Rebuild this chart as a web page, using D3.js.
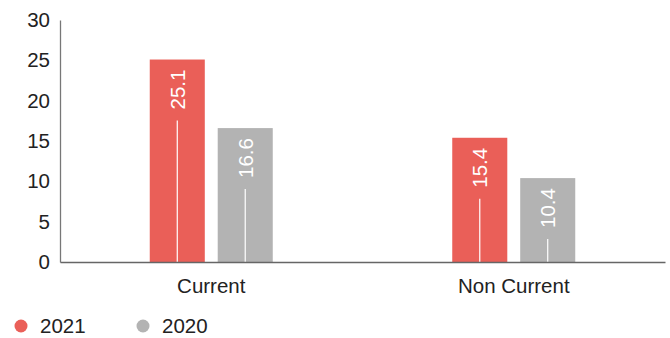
<!DOCTYPE html>
<html>
<head>
<meta charset="utf-8">
<style>
  body { margin: 0; background: #fff; }
  text { font-family: "Liberation Sans", Helvetica, Arial, sans-serif; }
</style>
<script src="https://d3js.org/d3.v7.min.js"></script>
</head>
<body>
<svg width="670" height="338"></svg>
<script>
var categories = ["Current", "Non Current"];
var series = ["2021", "2020"];
var values2021 = [25.1, 15.4];
var values2020 = [16.6, 10.4];
var yTicks = [0, 5, 10, 15, 20, 25, 30];
var colors = ["#ea5f58", "#b3b3b3"];
var fs = 20.5;

var svg = d3.select("svg"),
    margin = {top: 20, right: 5, bottom: 76, left: 60},
    width = +svg.attr("width") - margin.left - margin.right,
    height = +svg.attr("height") - margin.top - margin.bottom;

var data = categories.map(function(c, i) {
  return {cat: c, vals: [values2021[i], values2020[i]]};
});

var x0 = d3.scaleBand().domain(categories).range([0, width]);
var groupW = 123;
var x1 = d3.scaleBand().domain(series)
    .range([x0.bandwidth() / 2 - groupW / 2, x0.bandwidth() / 2 + groupW / 2])
    .paddingInner(0.19);
var y = d3.scaleLinear().domain([0, 30]).range([height, 0]);

var g = svg.append("g")
    .attr("transform", "translate(" + margin.left + "," + margin.top + ")");

// y axis
var yAxis = g.append("g")
    .call(d3.axisLeft(y).tickValues(yTicks).tickSize(0).tickPadding(10));
yAxis.select(".domain").attr("stroke", "#777").attr("stroke-width", 1.3);
yAxis.selectAll("text").attr("font-size", fs).attr("fill", "#222")
    .attr("font-family", "Liberation Sans, Helvetica, Arial, sans-serif");

// bars
var groups = g.selectAll(".grp")
  .data(data)
  .enter().append("g")
    .attr("class", "grp")
    .attr("transform", function(d) { return "translate(" + x0(d.cat) + ",0)"; });

var bars = groups.selectAll(".bar")
  .data(function(d) { return d.vals.map(function(v, i) { return {s: series[i], v: v, i: i}; }); })
  .enter().append("g").attr("class", "bar");

bars.append("rect")
    .attr("x", function(d) { return x1(d.s); })
    .attr("y", function(d) { return y(d.v); })
    .attr("width", x1.bandwidth())
    .attr("height", function(d) { return height - y(d.v); })
    .attr("fill", function(d) { return colors[d.i]; });

bars.each(function(d) {
  var b = d3.select(this);
  var cx = x1(d.s) + x1.bandwidth() / 2;
  var top = y(d.v) + 10;
  var t = b.append("text")
      .attr("transform", "translate(" + cx + "," + top + ") rotate(-90)")
      .attr("text-anchor", "end")
      .attr("dy", "0.36em")
      .attr("font-size", fs)
      .attr("fill", "#fff")
      .text(d3.format(".1f")(d.v));
  var len = t.node().getComputedTextLength();
  b.append("line")
      .attr("x1", cx).attr("x2", cx)
      .attr("y1", top + len + 11).attr("y2", height)
      .attr("stroke", "#fff").attr("stroke-width", 1.2);
});

// x axis
var xAxis = g.append("g")
    .attr("transform", "translate(0," + height + ")")
    .call(d3.axisBottom(x0).tickSize(0).tickPadding(16));
xAxis.select(".domain").attr("stroke", "#666").attr("stroke-width", 1.5);
xAxis.selectAll("text").attr("font-size", fs).attr("fill", "#222")
    .attr("font-family", "Liberation Sans, Helvetica, Arial, sans-serif");

// legend
var legend = svg.append("g").attr("transform", "translate(0,326)");
var lx = [21, 143];
series.forEach(function(s, i) {
  legend.append("circle").attr("cx", lx[i]).attr("cy", 0).attr("r", 6.5).attr("fill", colors[i]);
  legend.append("text").attr("x", lx[i] + 19).attr("y", 0).attr("dy", "0.36em")
      .attr("font-size", fs).attr("fill", "#222").text(s);
});
</script>
</body>
</html>
